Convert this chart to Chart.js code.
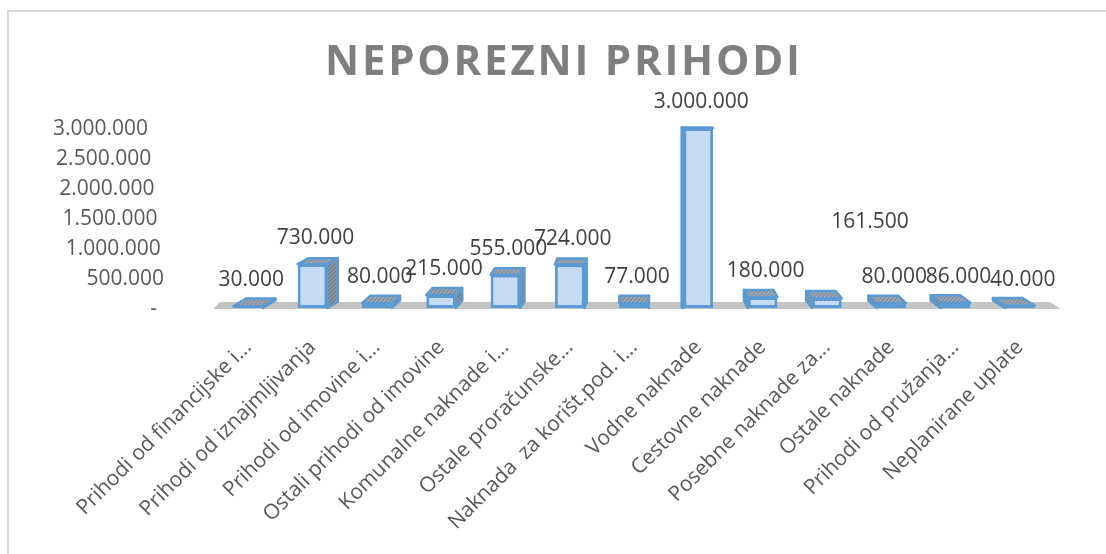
<!DOCTYPE html>
<html>
<head>
<meta charset="utf-8">
<script src="https://cdn.jsdelivr.net/npm/chart.js@4.4.0/dist/chart.umd.min.js"></script>
<style>
  html, body { margin: 0; padding: 0; background: #fff; overflow: hidden; }
  #wrap { position: relative; width: 1106px; height: 554px; overflow: hidden; }
  #frame { position: absolute; left: 7px; top: 10px; width: 1200px; height: 700px; border: 2px solid #d9d9d9; }
  canvas { position: absolute; left: 0; top: 0; }
</style>
</head>
<body>
<div id="wrap">
  <div id="frame"></div>
  <canvas id="chart" width="1106" height="554"></canvas>
</div>
<script>
// data
const title = 'NEPOREZNI PRIHODI'
const categories = [
  'Prihodi od financijske i...',
  'Prihodi od iznajmljivanja',
  'Prihodi od imovine i...',
  'Ostali prihodi od imovine',
  'Komunalne naknade i...',
  'Ostale proračunske...',
  'Naknada  za korišt.pod. i...',
  'Vodne naknade',
  'Cestovne naknade',
  'Posebne naknade za...',
  'Ostale naknade',
  'Prihodi od pružanja...',
  'Neplanirane uplate'
]
const values = [30000, 730000, 80000, 215000, 555000, 724000, 77000, 3000000, 180000, 161500, 80000, 86000, 40000]
const yTicks = [0, 500000, 1000000, 1500000, 2000000, 2500000, 3000000]

// label placed off its bar in the original (index: [dx, dy])
const labelNudge = { 9: [40, -50] }

const fmt = v => v === 0 ? '-' : String(v).replace(/\B(?=(\d{3})+(?!\d))/g, '.')
const FONT = "'Open Sans', sans-serif"

// small textures like excel's 3d fill
const makePattern = (base, dot) => {
  const c = document.createElement('canvas')
  c.width = 4; c.height = 4
  const g = c.getContext('2d')
  g.fillStyle = base; g.fillRect(0, 0, 4, 4)
  g.fillStyle = dot
  g.fillRect(0, 0, 1, 1); g.fillRect(2, 2, 1, 1); g.fillRect(1, 3, 1, 1); g.fillRect(3, 1, 1, 1)
  return g.createPattern(c, 'repeat')
}
const ctx0 = document.getElementById('chart').getContext('2d')
const frontFill = makePattern('#c0d8f1', '#d4e5f7')
const topFill = makePattern('#8b95a1', '#a9b2bc')
const sideFill = makePattern('#7c8692', '#959fab')
const edge = '#5b9bd5'
const vp = { x: 640, y: 115 }

const floorPlugin = {
  id: 'floor',
  beforeDatasetsDraw(chart) {
    const { ctx, chartArea: { left, right, bottom } } = chart
    ctx.save()
    ctx.fillStyle = '#c4c4c4'
    ctx.beginPath()
    ctx.moveTo(left - 3, bottom + 1)
    ctx.lineTo(right + 9, bottom + 1)
    ctx.lineTo(right - 2, bottom - 6)
    ctx.lineTo(left + 4, bottom - 6)
    ctx.closePath()
    ctx.fill()
    ctx.restore()
  }
}

const boxPlugin = {
  id: 'box3d',
  afterDatasetsDraw(chart) {
    const { ctx } = chart
    const meta = chart.getDatasetMeta(0)
    ctx.save()
    ctx.lineWidth = 2.5
    ctx.lineJoin = 'round'
    ctx.strokeStyle = edge
    meta.data.forEach((bar, i) => {
      const { x, y, base, width } = bar.getProps(['x', 'y', 'base', 'width'], true)
      const x0 = x - width / 2, x1 = x + width / 2
      const sx = (vp.x - x) * 0.032
      const sy = Math.max(0.5, (y - vp.y) * 0.04)
      // side
      const xs = sx > 0 ? x1 : x0
      ctx.fillStyle = sideFill
      ctx.beginPath()
      ctx.moveTo(xs, y)
      ctx.lineTo(xs + sx, y - sy)
      ctx.lineTo(xs + sx, base - sy)
      ctx.lineTo(xs, base)
      ctx.closePath()
      ctx.fill(); ctx.stroke()
      // top
      ctx.fillStyle = topFill
      ctx.beginPath()
      ctx.moveTo(x0, y)
      ctx.lineTo(x1, y)
      ctx.lineTo(x1 + sx, y - sy)
      ctx.lineTo(x0 + sx, y - sy)
      ctx.closePath()
      ctx.fill(); ctx.stroke()
    })
    // value labels
    ctx.fillStyle = '#404040'
    ctx.font = '21px ' + FONT
    ctx.textAlign = 'center'
    ctx.textBaseline = 'middle'
    meta.data.forEach((bar, i) => {
      const n = labelNudge[i] || [0, 0]
      ctx.fillText(fmt(values[i]), bar.x + 3 + n[0], bar.y - 26 + n[1])
    })
    ctx.restore()
  }
}

// value axis labels, drawn from the y scale; they lean like the 3d wall
const yLabelPlugin = {
  id: 'yLabels',
  afterDraw(chart) {
    const { ctx, scales: { y } } = chart
    ctx.save()
    ctx.font = '21px ' + FONT
    ctx.fillStyle = '#595959'
    ctx.textAlign = 'right'
    ctx.textBaseline = 'middle'
    yTicks.forEach(v => {
      const py = y.getPixelForValue(v)
      const right = v === 0 ? 157 : 148 + (3000000 - v) / 500000 * 3.2
      ctx.fillText(fmt(v), right, py + 1)
    })
    ctx.restore()
  }
}

const titlePlugin = {
  id: 'spacedTitle',
  afterDraw(chart) {
    const { ctx } = chart
    ctx.save()
    ctx.font = 'bold 42px ' + FONT
    ctx.fillStyle = '#7f7f7f'
    ctx.textBaseline = 'alphabetic'
    const chars = title.split('')
    const w0 = chars.reduce((s, c) => s + ctx.measureText(c).width, 0)
    const gap = (475 - w0) / (chars.length - 1)
    let x = 325
    chars.forEach(c => {
      ctx.fillText(c, x, 75)
      x += ctx.measureText(c).width + gap
    })
    ctx.restore()
  }
}

new Chart(ctx0, {
  type: 'bar',
  data: {
    labels: categories,
    datasets: [{
      data: values,
      backgroundColor: frontFill,
      borderColor: edge,
      borderWidth: 3,
      borderSkipped: false,
      barPercentage: 0.46,
      categoryPercentage: 1
    }]
  },
  options: {
    responsive: false,
    animation: false,
    layout: { padding: { left: 66, right: 54, top: 128, bottom: 10 } },
    plugins: {
      legend: { display: false },
      tooltip: { enabled: false },
      title: { display: false }
    },
    scales: {
      x: {
        grid: { display: false },
        border: { display: false },
        afterFit(s) { s.height = 236 },
        ticks: {
          color: '#595959',
          font: { family: FONT, size: 21 },
          minRotation: 45,
          maxRotation: 45,
          autoSkip: false,
          padding: 19
        }
      },
      y: {
        min: 0,
        max: 3000000,
        grid: { display: false },
        border: { display: false },
        afterFit(s) { s.width = 150 },
        afterBuildTicks(s) { s.ticks = yTicks.map(v => ({ value: v })) },
        ticks: { display: false }
      }
    }
  },
  plugins: [floorPlugin, boxPlugin, yLabelPlugin, titlePlugin]
})
</script>
</body>
</html>
